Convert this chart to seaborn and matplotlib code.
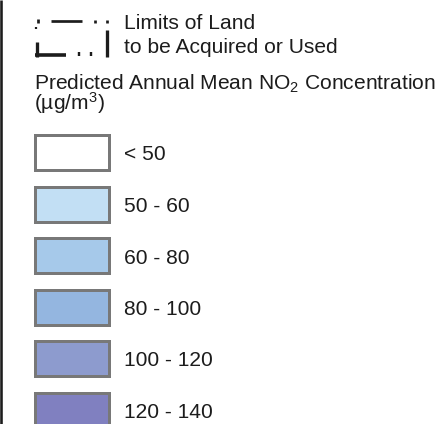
import matplotlib
matplotlib.use("Agg")
import matplotlib.pyplot as plt
import seaborn as sns
import pandas as pd

# ---- data ----
class_labels = ["< 50", "50 - 60", "60 - 80", "80 - 100", "100 - 120", "120 - 140"]
class_colors = ["#ffffff", "#c2dff4", "#a6c9ea", "#94b6e0", "#8d9bce", "#8080c0"]
bar_values = [1, 1, 1, 1, 1, 1]
boundary_label = ["Limits of Land", "to be Acquired or Used"]
title_lines = ["Predicted Annual Mean NO$\\mathregular{_2}$ Concentration",
               "(µg/m$\\mathregular{^3}$)"]

sns.set_theme(style="white")
plt.rcParams["font.family"] = ["Liberation Sans", "DejaVu Sans"]
plt.rcParams["mathtext.fontset"] = "custom"
plt.rcParams["mathtext.rm"] = "Liberation Sans"

W, H = 448, 424
fig = plt.figure(figsize=(W / 100, H / 100), dpi=100)
ax = fig.add_axes([0, 0, 1, 1])

# pixel geometry of the swatch column (edge-line centres)
x0, bw = 34.8, 73.7
y0, step = 152.5, 51.5
PT = 0.72  # points per pixel at 100 dpi

df = pd.DataFrame({"cls": class_labels, "v": bar_values})
sns.barplot(data=df, x="v", y="cls", hue="cls", palette=class_colors,
            orient="h", width=35.0 / step, saturation=1, legend=False,
            edgecolor="#787878", linewidth=3.0 * PT, ax=ax)

ax.set_xlim(-x0 / bw, (W - x0) / bw)
ax.set_ylim((H - y0) / step, -y0 / step)
ax.set_axis_off()


def px(x, y):
    return (x - x0) / bw, (y - y0) / step


fs = 15.1
tc = "#1c1c1c"
tx = 123.5
for i, lab in enumerate(class_labels):
    ax.text(px(tx, 0)[0], i + 8.0 / step, lab, fontsize=fs,
            va="baseline", ha="left", color=tc)

# boundary symbol
def seg(xa, ya, xb, yb, lwpx=3.0):
    (a, b), (c, d) = px(xa, ya), px(xb, yb)
    ax.plot([a, c], [b, d], color=tc, lw=lwpx * PT, solid_capstyle="butt")

seg(38, 19, 38, 22.5, 2.7)
seg(36.2, 26.7, 36.2, 29, 2.2)
seg(50.7, 21, 81.7, 21, 2.7)
seg(94.6, 19.7, 94.6, 23, 2.7)
seg(107.3, 19.7, 107.3, 23, 2.7)
seg(36.7, 42.3, 36.7, 57.3, 3.3)
seg(35, 54.5, 66, 54.5, 3.6)
seg(78.8, 52.3, 78.8, 55.7, 2.4)
seg(91.3, 52.3, 91.3, 55.7, 2.4)
seg(106.7, 30, 106.7, 57.3, 3.3)

# left frame line
seg(1.0, 0, 1.0, H, 2.6)

renderer = fig.canvas.get_renderer()


def _last_number(item):
    flat = []
    def rec(v):
        if isinstance(v, (list, tuple)):
            for e in v:
                rec(e)
        elif not isinstance(v, str):
            flat.append(float(v))
    rec(item)
    return flat[-1]


def place_lines(x_px, base_px, lines, gap_px):
    t = ax.text(*px(x_px, base_px), "\n".join(lines), fontsize=fs,
                va="top", ha="left", color=tc, linespacing=1.0)
    try:
        def measure(ls):
            t.set_linespacing(ls)
            _, info, _ = t._get_layout(renderer)
            ya, yb = _last_number(info[0]), _last_number(info[1])
            return ya - yb, ya
        s1, _ = measure(1.0)
        s2, _ = measure(0.5)
        a = (s1 - s2) / 0.5
        ls = 1.0 + (gap_px - s1) / a if a > 0 else 1.0
        ls = min(max(ls, 0.1), 3.0)
        _, y_first = measure(ls)
        if not (-60 < y_first < 0):
            raise ValueError
        t.set_position(px(x_px, base_px + y_first))
    except Exception:
        t.set_linespacing(0.9)
        t.set_va("baseline")
        t.set_position(px(x_px, base_px + gap_px))
    return t


place_lines(tx, 29.0, boundary_label, 24.3)
place_lines(33.5, 89.5, title_lines, 20.5)

fig.savefig("out.png", dpi=100)
